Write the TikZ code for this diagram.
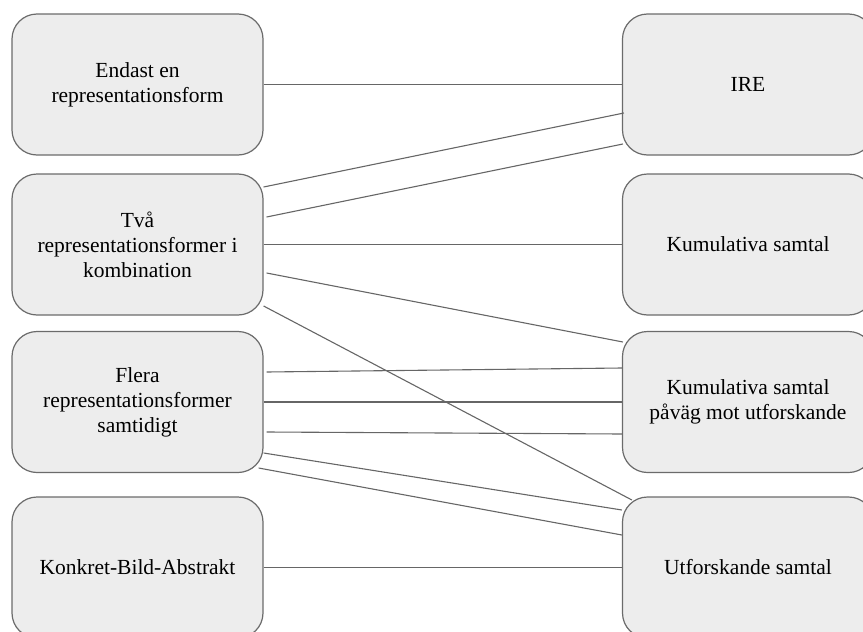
\documentclass[tikz,border=0pt]{standalone}
\usepackage{fontspec}
\setmainfont{Liberation Serif}
\begin{document}
\begin{tikzpicture}[x=1pt,y=-1pt,
  box/.style={draw=black!58, fill=black!7, line width=1.2pt, rounded corners=25pt,
    minimum width=251pt, minimum height=141pt, inner sep=0pt, align=center,
    font=\fontsize{21.5}{25}\selectfont},
  link/.style={draw=black!60, line width=1.1pt}]
\useasboundingbox (0,0) rectangle (863,632);
\node[box] (L1) at (137.5,84.5) {Endast en\\representationsform};
\node[box] (L2) at (137.5,244.5) {Två\\representationsformer i\\kombination};
\node[box] (L3) at (137.5,402) {Flera\\representationsformer\\samtidigt};
\node[box] (L4) at (137.5,567.5) {Konkret-Bild-Abstrakt};
\node[box] (R1) at (748,84.5) {IRE};
\node[box] (R2) at (748,244.5) {Kumulativa samtal};
\node[box] (R3) at (748,402) {Kumulativa samtal\\påväg mot utforskande};
\node[box] (R4) at (748,567.5) {Utforskande samtal};
\draw[link] (L1.east) -- (R1.west);
\draw[link] ([yshift=57.5]L2.east) -- ([xshift=2,yshift=-28.5]R1.west);
\draw[link] ([xshift=3,yshift=27.5]L2.east) -- ([xshift=1,yshift=-59.5]R1.west);
\draw[link] (L2.east) -- (R2.west);
\draw[link] ([xshift=3,yshift=-28.5]L2.east) -- ([xshift=1,yshift=60]R3.west);
\draw[link] ([yshift=-61.5]L2.east) -- ([xshift=10,yshift=67.5]R4.west);
\draw[link] ([xshift=3,yshift=30]L3.east) -- ([yshift=34]R3.west);
\draw[link] (L3.east) -- (R3.west);
\draw[link] ([xshift=3,yshift=-30]L3.east) -- ([yshift=-32]R3.west);
\draw[link] ([yshift=-51]L3.east) -- ([yshift=57.5]R4.west);
\draw[link] ([xshift=-5,yshift=-66]L3.east) -- ([yshift=32.5]R4.west);
\draw[link] (L4.east) -- (R4.west);
\end{tikzpicture}
\end{document}
